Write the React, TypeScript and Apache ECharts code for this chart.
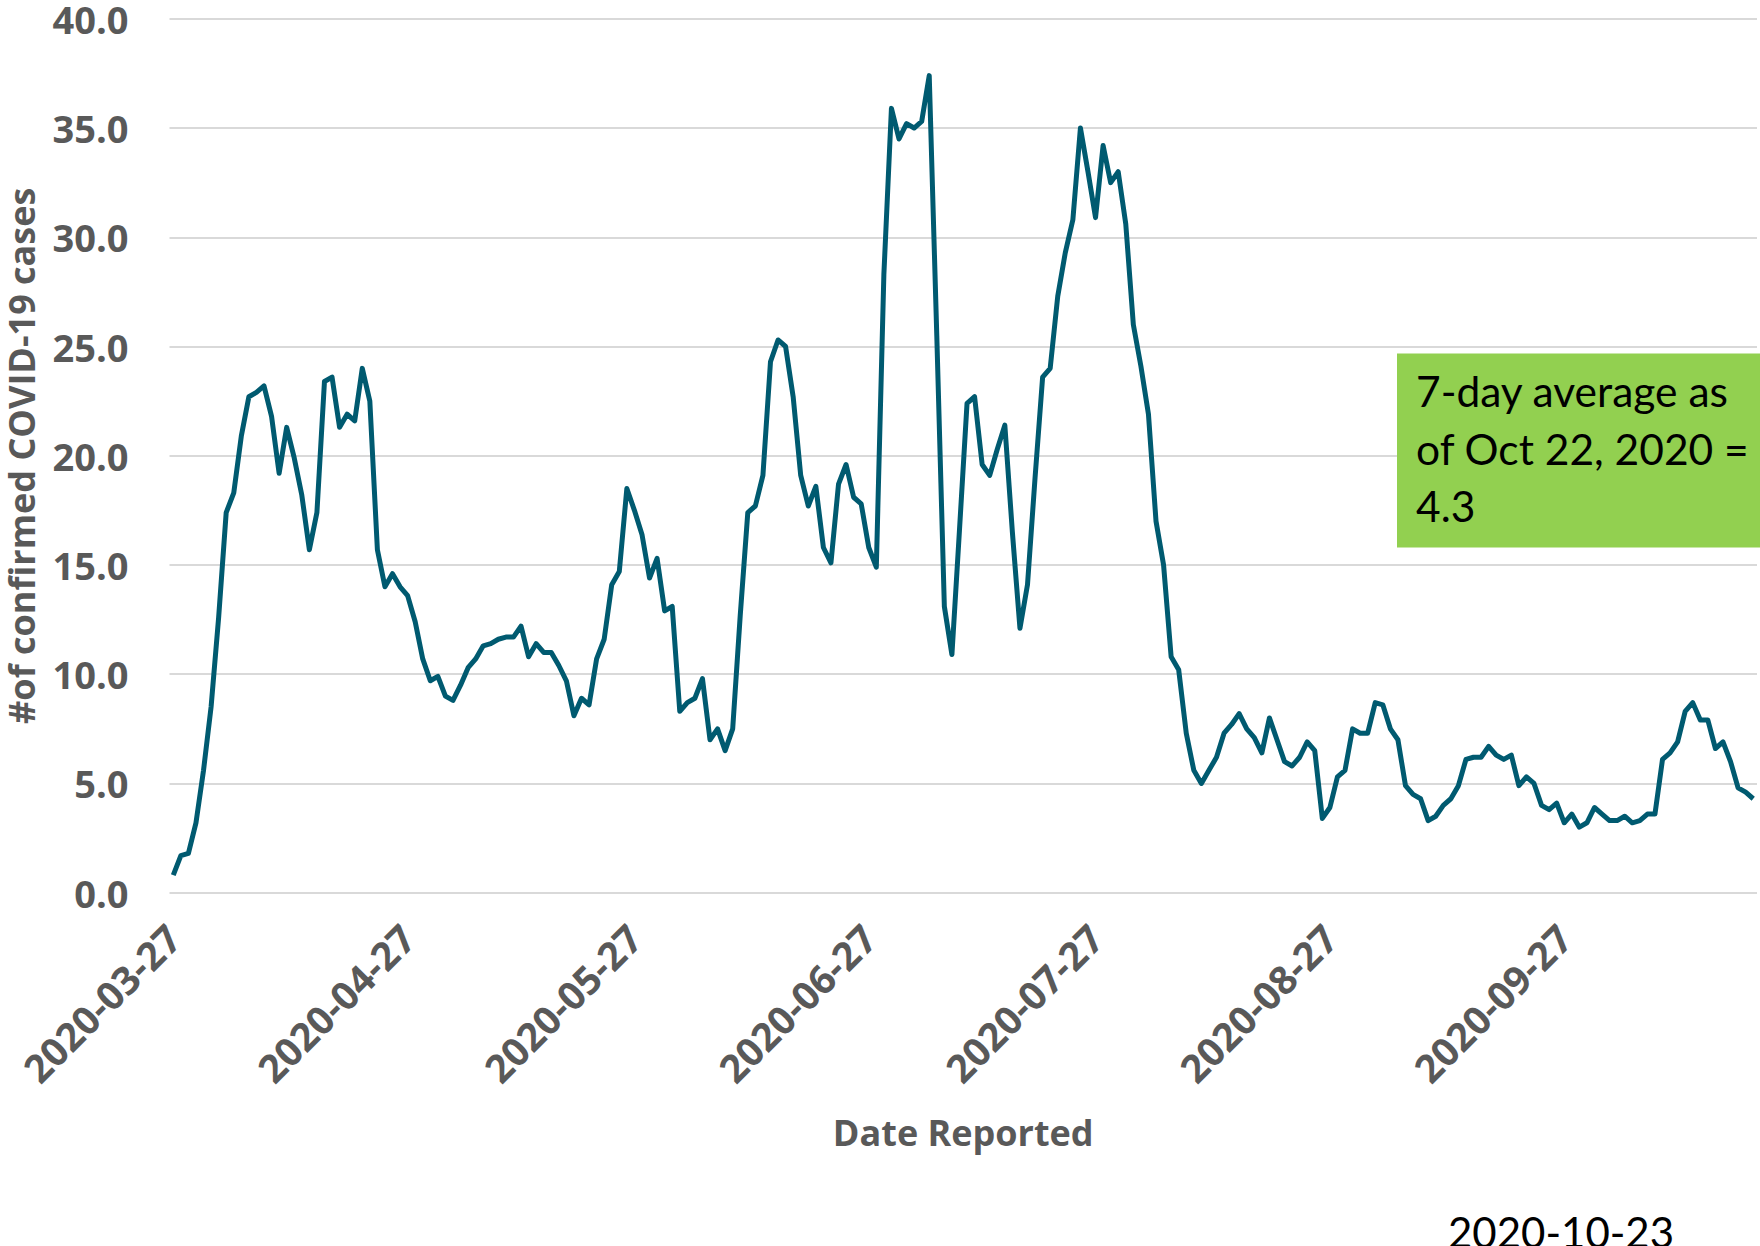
import React, { useEffect, useRef } from "react";
import * as echarts from "echarts";

const START_DATE = "2020-03-27";

const casesAvg: number[] = [
  0.8, 1.7, 1.8, 3.2, 5.6, 8.5, 12.6, 17.4, 18.3, 20.9,
  22.7, 22.9, 23.2, 21.8, 19.2, 21.3, 19.9, 18.2, 15.7, 17.4,
  23.4, 23.6, 21.3, 21.9, 21.6, 24.0, 22.5, 15.7, 14.0, 14.6,
  14.0, 13.6, 12.4, 10.7, 9.7, 9.9, 9.0, 8.8, 9.5, 10.3,
  10.7, 11.3, 11.4, 11.6, 11.7, 11.7, 12.2, 10.8, 11.4, 11.0,
  11.0, 10.4, 9.7, 8.1, 8.9, 8.6, 10.7, 11.6, 14.1, 14.7,
  18.5, 17.5, 16.4, 14.4, 15.3, 12.9, 13.1, 8.3, 8.7, 8.9,
  9.8, 7.0, 7.5, 6.5, 7.5, 12.7, 17.4, 17.7, 19.1, 24.3,
  25.3, 25.0, 22.7, 19.1, 17.7, 18.6, 15.8, 15.1, 18.7, 19.6,
  18.1, 17.8, 15.8, 14.9, 28.3, 35.9, 34.5, 35.2, 35.0, 35.3,
  37.4, 25.5, 13.1, 10.9, 16.6, 22.4, 22.7, 19.6, 19.1, 20.3,
  21.4, 16.5, 12.1, 14.1, 19.0, 23.6, 24.0, 27.3, 29.3, 30.8,
  35.0, 33.0, 30.9, 34.2, 32.5, 33.0, 30.6, 26.0, 24.1, 21.9,
  17.0, 15.0, 10.8, 10.2, 7.3, 5.6, 5.0, 5.6, 6.2, 7.3,
  7.7, 8.2, 7.5, 7.1, 6.4, 8.0, 7.0, 6.0, 5.8, 6.2,
  6.9, 6.5, 3.4, 3.9, 5.3, 5.6, 7.5, 7.3, 7.3, 8.7,
  8.6, 7.5, 7.0, 4.9, 4.5, 4.3, 3.3, 3.5, 4.0, 4.3,
  4.9, 6.1, 6.2, 6.2, 6.7, 6.3, 6.1, 6.3, 4.9, 5.3,
  5.0, 4.0, 3.8, 4.1, 3.2, 3.6, 3.0, 3.2, 3.9, 3.6,
  3.3, 3.3, 3.5, 3.2, 3.3, 3.6, 3.6, 6.1, 6.4, 6.9,
  8.3, 8.7, 7.9, 7.9, 6.6, 6.9, 6.0, 4.8, 4.6, 4.3,
];

const buildDates = (start: string, n: number): string[] => {
  const out: string[] = [];
  const t0 = Date.parse(start + "T00:00:00Z");
  for (let i = 0; i < n; i++) {
    out.push(new Date(t0 + i * 86400000).toISOString().slice(0, 10));
  }
  return out;
};
const dates: string[] = buildDates(START_DATE, casesAvg.length);

const yTitle = "#of confirmed COVID-19 cases";
const xTitle = "Date Reported";
const boxLines = ["7-day average as", "of Oct 22, 2020 =", "4.3"];
const footerDate = "2020-10-23";

export default function App() {
  const ref = useRef<HTMLDivElement>(null);
  useEffect(() => {
    if (!ref.current) return;
    const chart = echarts.init(ref.current, undefined, { renderer: "svg" });
    const axisFont = {
      fontFamily: "'Open Sans'",
      fontWeight: "bold" as const,
      color: "#595959",
    };
    chart.setOption({
      animation: false,
      backgroundColor: "#ffffff",
      grid: {
        left: 169.5,
        right: 3,
        top: 18.8,
        bottom: 353.3,
        containLabel: false,
        outerBoundsMode: "none",
      },
      xAxis: {
        type: "category",
        data: dates,
        boundaryGap: true,
        axisLine: { show: false },
        axisTick: { show: false },
        axisLabel: {
          ...axisFont,
          fontSize: 39,
          rotate: 45,
          margin: 38,
          interval: (_i: number, v: string) => v.endsWith("-27"),
        },
        name: xTitle,
        nameLocation: "middle",
        nameGap: 222,
        nameTextStyle: { ...axisFont, fontSize: 36 },
      },
      yAxis: {
        type: "value",
        min: 0,
        max: 40,
        interval: 5,
        axisLine: { show: false },
        axisTick: { show: false },
        splitLine: { lineStyle: { color: "#d9d9d9", width: 2 } },
        axisLabel: {
          ...axisFont,
          fontSize: 38,
          margin: 41,
          formatter: (v: number) => v.toFixed(1),
        },
        name: yTitle,
        nameLocation: "middle",
        nameRotate: 90,
        nameGap: 130,
        nameTextStyle: { ...axisFont, fontSize: 36 },
      },
      series: [
        {
          type: "line",
          data: casesAvg,
          showSymbol: false,
          symbol: "none",
          lineStyle: { color: "#005a70", width: 5, join: "round" },
        },
      ],
      graphic: [
        {
          type: "rect",
          z: 100,
          shape: { x: 1397, y: 353.5, width: 363, height: 194 },
          style: { fill: "#92d050" },
        },
        {
          type: "text",
          z: 101,
          x: 1416,
          y: 362,
          style: {
            text: boxLines.join("\n"),
            font: "42.5px Lato",
            fill: "#000000",
            lineHeight: 57.5,
            verticalAlign: "top",
            align: "left",
          },
        },
        {
          type: "text",
          z: 101,
          x: 1448,
          y: 1211,
          style: {
            text: footerDate,
            font: "42px Lato",
            fill: "#000000",
            verticalAlign: "top",
            align: "left",
          },
        },
      ],
    });
    return () => chart.dispose();
  }, []);
  return (
    <div
      ref={ref}
      style={{ position: "absolute", left: 0, top: 0, width: 1760, height: 1246 }}
    />
  );
}
